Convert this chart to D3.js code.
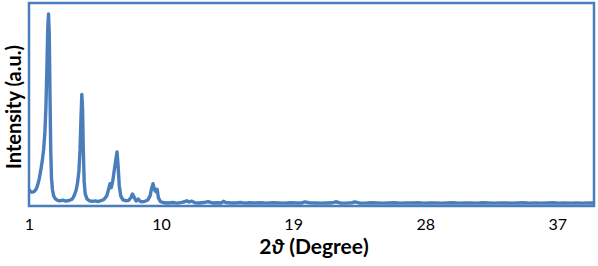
<!DOCTYPE html>
<html><head><meta charset="utf-8">
<script src="https://cdn.jsdelivr.net/npm/d3@7"></script>
<style>html,body{margin:0;padding:0;background:#fff;}svg{display:block;}</style>
</head><body>
<script>
// 2θ positions (degree)
const twoTheta = [1.00,1.10,1.20,1.30,1.40,1.50,1.60,1.70,1.80,1.90,2.00,2.08,2.15,2.22,2.28,2.33,2.38,2.43,2.48,2.53,2.60,2.68,2.80,2.95,3.10,3.30,3.50,3.70,3.90,4.00,4.10,4.20,4.30,4.40,4.48,4.55,4.60,4.65,4.70,4.76,4.83,4.95,5.10,5.30,5.50,5.70,5.90,6.10,6.30,6.45,6.52,6.60,6.70,6.80,6.90,7.00,7.07,7.15,7.25,7.40,7.60,7.80,7.95,8.05,8.15,8.30,8.45,8.55,8.70,8.90,9.10,9.25,9.35,9.45,9.55,9.65,9.73,9.82,9.95,10.2,10.5,10.8,11.1,11.4,11.6,11.75,11.9,12.1,12.3,12.6,12.9,13.2,13.5,13.8,14.1,14.25,14.4,14.6,14.8,15.1,15.4,15.7,16.0,16.4,16.8,17.2,17.6,18.0,18.4,18.8,19.2,19.6,19.8,20.1,20.5,20.9,21.3,21.7,21.9,22.2,22.6,23.0,23.2,23.5,23.9,24.3,24.7,25.1,25.5,25.9,26.3,26.7,27.1,27.5,27.9,28.3,28.7,29.1,29.5,29.9,30.3,30.7,31.1,31.5,31.9,32.3,32.7,33.1,33.5,33.9,34.3,34.7,35.1,35.5,35.9,36.3,36.7,37.1,37.5,37.9,38.3,38.7,39.1,39.5];
// intensity (a.u.)
const intensity = [8.0,7.2,6.8,7.0,7.5,8.5,10.5,13.5,17.5,22,28,36,48,68,88,94.6,85,55,28,14,8,5,3.5,2.8,2.5,2.9,2.4,2.7,3.2,4,5.5,7.5,11,17,28,45,55,48,28,12,6,3.5,2.7,2.3,2.5,2.2,2.6,3.2,5,9,11,9,12,17,22,26.6,20,10,5,3,2.6,2.8,4.2,5.9,4.5,2.5,3.4,2.4,2.1,2.3,3,5,8.5,11,8,7,8.2,4,2.2,1.6,1.5,1.7,1.4,1.8,2.1,2.6,2.0,2.4,1.6,1.5,1.7,2.2,1.5,1.6,1.5,2.3,1.7,1.6,1.5,1.5,1.7,1.4,1.6,1.5,1.6,1.4,1.6,1.5,1.4,1.6,1.5,1.5,2.0,1.6,1.5,1.4,1.5,1.6,2.1,1.5,1.4,1.6,2.0,1.5,1.4,1.6,1.5,1.4,1.5,1.6,1.4,1.5,1.5,1.6,1.4,1.5,1.5,1.4,1.5,1.6,1.4,1.5,1.5,1.4,1.6,1.5,1.4,1.5,1.5,1.4,1.5,1.6,1.4,1.5,1.4,1.5,1.6,1.4,1.5,1.4,1.5,1.4,1.5,1.5];
const xTicks = [1,10,19,28,37];
const yTitle = "Intensity (a.u.)";

const W = 598, H = 266;
const plot = {left:29, right:594, top:3, bottom:206};
const blue = "#4a7ebb";
const font = "Lato, 'Open Sans', sans-serif";

const svg = d3.select("body").append("svg").attr("width",W).attr("height",H);
const x = d3.scaleLinear().domain([1,39.5]).range([plot.left,plot.right]);
const y = d3.scaleLinear().domain([0,100]).range([plot.bottom,plot.top]);

const n = Math.min(twoTheta.length, intensity.length);
const data = d3.range(n).map(i=>[twoTheta[i],intensity[i]]);

svg.append("defs").append("clipPath").attr("id","clip").append("rect")
  .attr("x",plot.left).attr("y",plot.top).attr("width",plot.right-plot.left).attr("height",plot.bottom-plot.top);

svg.append("path").datum(data)
  .attr("clip-path","url(#clip)")
  .attr("fill","none").attr("stroke",blue).attr("stroke-width",3.4)
  .attr("stroke-linejoin","round")
  .attr("d", d3.line().x(d=>x(d[0])).y(d=>y(d[1])));

svg.append("rect").attr("x",plot.left).attr("y",plot.top)
  .attr("width",plot.right-plot.left).attr("height",plot.bottom-plot.top)
  .attr("fill","none").attr("stroke",blue).attr("stroke-width",2.5);

const xAxis = d3.axisBottom(x).tickValues(xTicks).tickSize(0).tickPadding(13).tickFormat(d3.format("d"));
const gx = svg.append("g").attr("transform",`translate(0,${plot.bottom})`).call(xAxis);
gx.select(".domain").remove();
gx.selectAll("text").attr("font-family",font).attr("font-size",16).attr("fill","#000");

const tt = svg.append("text").attr("x",314).attr("y",254).attr("text-anchor","middle")
  .attr("font-family",font).attr("font-size",21).attr("font-weight","bold").attr("fill","#000");
tt.append("tspan").text("2");
tt.append("tspan").attr("font-style","italic").text("ϑ");
tt.append("tspan").text(" (Degree)");

svg.append("text").attr("transform","translate(21,107) rotate(-90)").attr("text-anchor","middle")
  .attr("font-family",font).attr("font-size",20).attr("font-weight","bold").attr("fill","#000")
  .text(yTitle);
</script>
</body></html>
